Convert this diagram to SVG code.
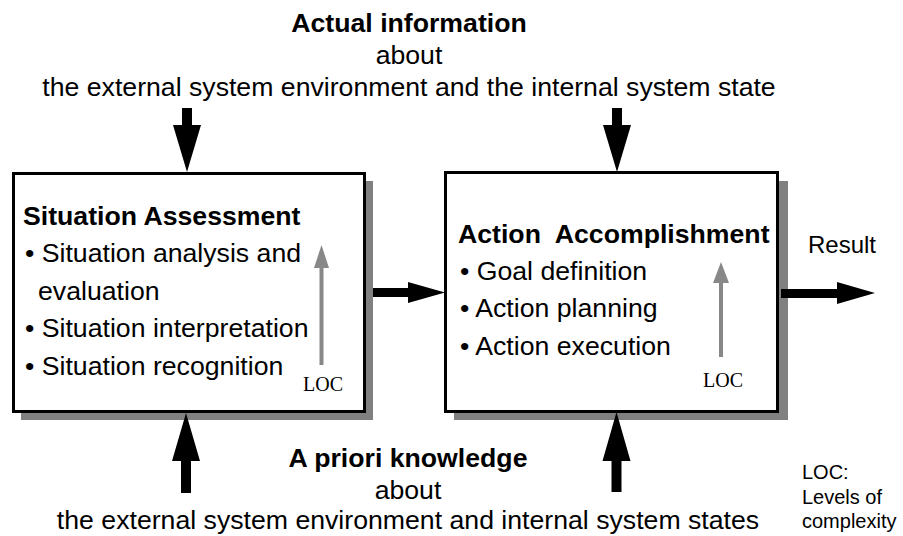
<svg xmlns="http://www.w3.org/2000/svg" width="903" height="536" viewBox="0 0 903 536">
<style>
.t{font-family:"Liberation Sans",Arial,sans-serif;font-size:26.67px;fill:#000;white-space:pre}
.b{font-weight:bold}
.c{text-anchor:middle}
.loc{font-family:"Liberation Serif","Times New Roman",serif;font-size:20px;fill:#000}
.note{font-family:"Liberation Sans",Arial,sans-serif;font-size:20px;fill:#000}
.shadow{fill:#808080}
.box{fill:#fff;stroke:#000;stroke-width:3}
.arr{fill:#000}
.garr{fill:#888}
</style>
<rect width="903" height="536" fill="#fff"/>
<g id="top-label">
<text class="t b c" x="409" y="32">Actual information</text>
<text class="t c" x="409" y="64">about</text>
<text class="t c" x="409" y="96">the external system environment and the internal system state</text>
</g>
<g id="situation-assessment">
<rect class="shadow" x="21" y="181" width="352" height="239"/>
<rect class="box" x="13.5" y="173.5" width="351" height="238"/>
<text class="t b" x="23" y="225">Situation Assessment</text>
<text class="t" x="25" y="262">• Situation analysis and</text>
<text class="t" x="38" y="300">evaluation</text>
<text class="t" x="25" y="337">• Situation interpretation</text>
<text class="t" x="25" y="375">• Situation recognition</text>
<polygon class="garr" points="321.5,245 329,268 323.5,268 323.5,365 319.5,365 319.5,268 314,268"/>
<text class="loc" x="303" y="391">LOC</text>
</g>
<g id="action-accomplishment">
<rect class="shadow" x="454" y="181" width="334" height="239"/>
<rect class="box" x="445.5" y="172.5" width="332" height="239"/>
<text class="t b" x="458" y="243">Action  Accomplishment</text>
<text class="t" x="460" y="280">• Goal definition</text>
<text class="t" x="460" y="317">• Action planning</text>
<text class="t" x="460" y="355">• Action execution</text>
<polygon class="garr" points="721,262 729,283 723,283 723,357 719,357 719,283 713,283"/>
<text class="loc" x="703" y="387">LOC</text>
</g>
<g id="result-label">
<text class="t" x="808" y="253" style="font-size:24px">Result</text>
</g>
<g id="bottom-label">
<text class="t b c" x="408" y="467">A priori knowledge</text>
<text class="t c" x="408" y="499">about</text>
<text class="t c" x="408" y="529">the external system environment and internal system states</text>
</g>
<g id="loc-note">
<text class="note" x="802" y="479">LOC:</text>
<text class="note" x="802" y="504">Levels of</text>
<text class="note" x="802" y="528">complexity</text>
</g>
<g id="connectors">
<polygon class="arr" points="182,108 192,108 192,125 201,125 187,172 173,125 182,125"/>
<polygon class="arr" points="612,108 622,108 622,125 631,125 617,172 603,125 612,125"/>
<polygon class="arr" points="186,413 200,461 191,461 191,493 181,493 181,461 172,461"/>
<polygon class="arr" points="616.5,412 630.5,461 621.5,461 621.5,492 611.5,492 611.5,461 602.5,461"/>
<polygon class="arr" points="373,288 408,288 408,282 445,292.5 408,303 408,297 373,297"/>
<polygon class="arr" points="781,289 837,289 837,282 875,293 837,304 837,298 781,298"/>
</g>
</svg>
